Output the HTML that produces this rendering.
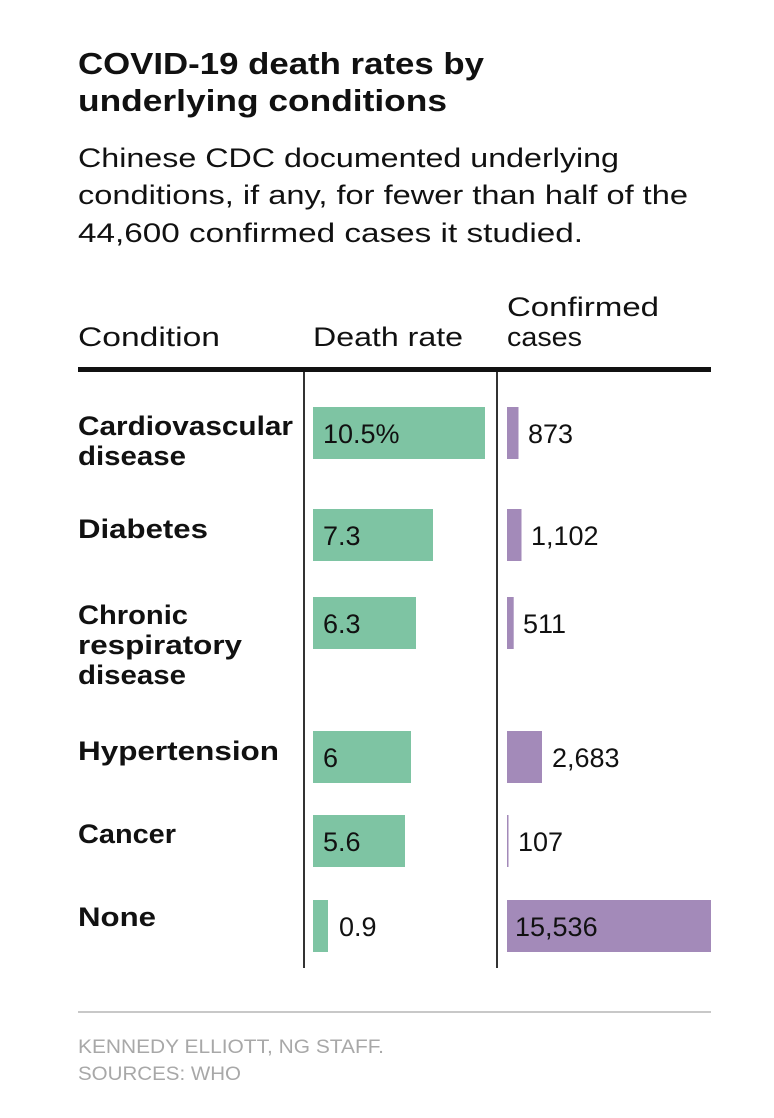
<!DOCTYPE html>
<html><head><meta charset="utf-8"><style>
html,body{margin:0;padding:0;background:#fff;}
svg{display:block;}
text{font-family:"Liberation Sans",sans-serif;fill:#111;}
.b{font-weight:bold;}
</style></head><body>
<svg width="774" height="1118" viewBox="0 0 774 1118" xmlns="http://www.w3.org/2000/svg">
<text class="b" x="78" y="74" font-size="31" textLength="406" lengthAdjust="spacingAndGlyphs">COVID-19 death rates by</text>
<text class="b" x="78" y="111" font-size="31" textLength="369" lengthAdjust="spacingAndGlyphs">underlying conditions</text>
<text x="78" y="167" font-size="27" textLength="541" lengthAdjust="spacingAndGlyphs">Chinese CDC documented underlying</text>
<text x="78" y="204" font-size="27" textLength="610" lengthAdjust="spacingAndGlyphs">conditions, if any, for fewer than half of the</text>
<text x="78" y="242" font-size="27" textLength="505" lengthAdjust="spacingAndGlyphs">44,600 confirmed cases it studied.</text>

<text x="78" y="346" font-size="27" textLength="142" lengthAdjust="spacingAndGlyphs">Condition</text>
<text x="313" y="346" font-size="27" textLength="150" lengthAdjust="spacingAndGlyphs">Death rate</text>
<text x="507" y="316" font-size="27" textLength="152" lengthAdjust="spacingAndGlyphs">Confirmed</text>
<text x="507" y="346" font-size="27" textLength="75" lengthAdjust="spacingAndGlyphs">cases</text>

<rect x="78" y="367" width="633" height="5" fill="#111"/>
<rect x="303" y="372" width="2" height="596" fill="#333"/>
<rect x="496" y="372" width="2" height="596" fill="#333"/>

<g fill="#7ec4a3">
<rect x="313" y="407" width="172" height="52"/>
<rect x="313" y="509" width="120" height="52"/>
<rect x="313" y="597" width="103" height="52"/>
<rect x="313" y="731" width="98" height="52"/>
<rect x="313" y="815" width="92" height="52"/>
<rect x="313" y="900" width="15" height="52"/>
</g>
<g fill="#a38ab9">
<rect x="507" y="407" width="11.5" height="52"/>
<rect x="507" y="509" width="14.5" height="52"/>
<rect x="507" y="597" width="6.7" height="52"/>
<rect x="507" y="731" width="35" height="52"/>
<rect x="507" y="815" width="1.5" height="52"/>
<rect x="507" y="900" width="204" height="52"/>
</g>

<g class="b" font-size="27">
<text class="b" x="78" y="435" textLength="215" lengthAdjust="spacingAndGlyphs">Cardiovascular</text>
<text class="b" x="78" y="465" textLength="108" lengthAdjust="spacingAndGlyphs">disease</text>
<text class="b" x="78" y="538" textLength="130" lengthAdjust="spacingAndGlyphs">Diabetes</text>
<text class="b" x="78" y="624" textLength="110" lengthAdjust="spacingAndGlyphs">Chronic</text>
<text class="b" x="78" y="654" textLength="164" lengthAdjust="spacingAndGlyphs">respiratory</text>
<text class="b" x="78" y="684" textLength="108" lengthAdjust="spacingAndGlyphs">disease</text>
<text class="b" x="78" y="760" textLength="201" lengthAdjust="spacingAndGlyphs">Hypertension</text>
<text class="b" x="78" y="843" textLength="98" lengthAdjust="spacingAndGlyphs">Cancer</text>
<text class="b" x="78" y="926" textLength="78" lengthAdjust="spacingAndGlyphs">None</text>
</g>

<g font-size="27">
<text x="323" y="443">10.5%</text>
<text x="323" y="545">7.3</text>
<text x="323" y="633">6.3</text>
<text x="323" y="767">6</text>
<text x="323" y="851">5.6</text>
<text x="339" y="936">0.9</text>
<text x="528" y="443">873</text>
<text x="531" y="545">1,102</text>
<text x="523" y="633">511</text>
<text x="552" y="767">2,683</text>
<text x="518" y="851">107</text>
<text x="515" y="936">15,536</text>
</g>

<rect x="78" y="1011" width="633" height="2" fill="#c8c8c8"/>
<text x="78" y="1053" font-size="19" style="fill:#a8a8a8" textLength="306" lengthAdjust="spacingAndGlyphs">KENNEDY ELLIOTT, NG STAFF.</text>
<text x="78" y="1080" font-size="19" style="fill:#a8a8a8" textLength="163" lengthAdjust="spacingAndGlyphs">SOURCES: WHO</text>
</svg>
</body></html>
